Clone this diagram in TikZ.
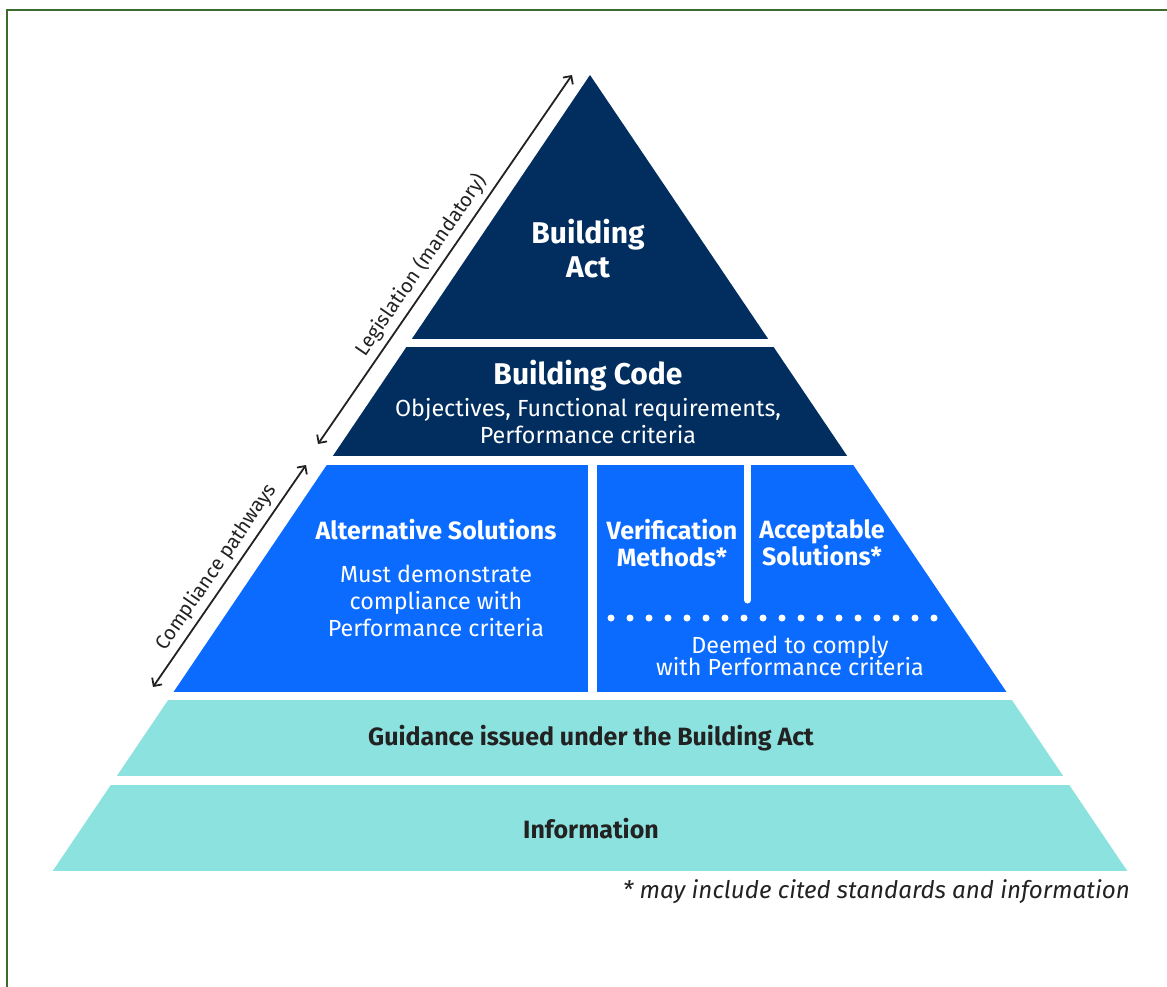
\documentclass[tikz,border=0pt]{standalone}
\usepackage{fontspec}
\setmainfont{Fira Sans}
\usetikzlibrary{arrows.meta}
\definecolor{actnavy}{HTML}{012E5F}
\definecolor{pathblue}{HTML}{0A6BFE}
\definecolor{guideteal}{HTML}{8CE2DF}
\definecolor{framegreen}{HTML}{3C6B30}
\definecolor{inkgray}{HTML}{222222}

\begin{document}
\begin{tikzpicture}[
    x=1pt, y=-1pt,
    lbl/.style={text=white, align=center, inner sep=0pt},
    big/.style={lbl, font=\fontsize{30}{34}\selectfont\bfseries},
    head/.style={lbl, font=\fontsize{25}{27}\selectfont\bfseries},
    body/.style={lbl, font=\fontsize{23.3}{27}\selectfont},
    dark/.style={head, text=inkgray},
    side/.style={font=\fontsize{20}{22}\selectfont, text=inkgray, inner sep=5pt},
    dimarrow/.style={{Straight Barb[length=6pt,width=12pt]}-{Straight Barb[length=6pt,width=12pt]},
                     line width=1.8pt, inkgray},
]
\useasboundingbox (0,0) rectangle (1167,987);

% Frame
\draw[framegreen, line width=2pt] (6.5,990) -- (6.5,10.5) -- (1170,10.5);

% Pyramid, cut into bands
\begin{scope}
    \clip (590,75) -- (1127.3,871) -- (52.7,871) -- cycle;
    \fill[actnavy] (0,70) rectangle (1167,339);
    \fill[actnavy] (0,347) rectangle (1167,456);
    \fill[pathblue] (0,465) rectangle (588,692);
    \fill[pathblue] (597,465) rectangle (1167,692);
    \fill[guideteal] (0,700) rectangle (1167,776);
    \fill[guideteal] (0,785) rectangle (1167,871);
\end{scope}

% Divider and dots
\draw[white, line width=7pt, line cap=round] (747.5,460) -- (747.5,600);
\foreach \i in {0,...,17}
    \fill[white] (611+19*\i,618) circle (3.5pt);

% Legislation
\node[big] (act) at (588,249) {Building\\Act};
\node[big] (code) at (588,376) {Building Code};
\node[body] (codetxt) at (588,421) {Objectives, Functional requirements,\\Performance criteria};

% Compliance pathways
\node[head] (alt) at (436,530) {Alternative Solutions};
\node[body] (alttxt) at (436,601) {Must demonstrate\\compliance with\\Performance criteria};
\node[head] (verif) at (672,543) {Verification\\Methods*};
\node[head] (accept) at (822,543) {Acceptable\\Solutions*};
\node[body] (deemed) at (790,656) {Deemed to comply\\[-5pt]with Performance criteria};

% Guidance and information
\node[dark] (guide) at (591,738) {Guidance issued under the Building Act};
\node[dark] (info) at (591,829) {Information};
\node[font=\fontsize{24.2}{26}\selectfont\itshape, text=inkgray, anchor=east, inner sep=0pt]
    (note) at (1130,892) {* may include cited standards and information};

% Side arrows
\coordinate (legtop) at (572,75);
\coordinate (legbot) at (318,444);
\coordinate (comptop) at (306,465);
\coordinate (compbot) at (153,687);
\draw[dimarrow] (legbot) -- node[side, sloped, above, pos=0.46] (legis) {Legislation (mandatory)} (legtop);
\draw[dimarrow] (compbot) -- node[side, sloped, above] (comp) {Compliance pathways} (comptop);

\end{tikzpicture}
\end{document}
